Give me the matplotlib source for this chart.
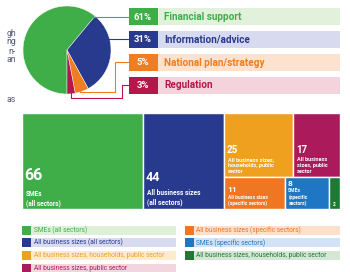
import matplotlib
matplotlib.use("Agg")
import matplotlib.pyplot as plt
from matplotlib.patches import Rectangle

plt.rcParams['font.family'] = ['Roboto', 'DejaVu Sans']

# ---------------- data ----------------
pie_labels = ["Financial support", "Information/advice", "National plan/strategy", "Regulation"]
pie_values = [61, 31, 5, 3]
pie_colors = ["#3fae49", "#283a8e", "#ef7d22", "#b5174b"]
pie_light = ["#e2f1dc", "#d8dbef", "#fde2cf", "#f4d3dc"]

tm_values = [66, 44, 25, 17, 11, 8, 2]
tm_labels = ["SMEs\n(all sectors)", "All business sizes\n(all sectors)",
             "All business sizes,\nhouseholds, public\nsector", "All business\nsizes, public\nsector",
             "All business sizes\n(specific sectors)", "SMEs\n(specific\nsectors)", ""]
tm_colors = ["#3fae49", "#283a8e", "#f0a01f", "#ab1a5a", "#ef7623", "#1f77c4", "#1d7a35"]

legend_labels = ["SMEs (all sectors)", "All business sizes (all sectors)",
                 "All business sizes, households, public sector", "All business sizes, public sector",
                 "All business sizes (specific sectors)", "SMEs (specific sectors)",
                 "All business sizes, households, public sector"]
legend_colors = ["#3fae49", "#283a8e", "#f0a01f", "#ab1a5a", "#ef7623", "#1f77c4", "#1d7a35"]
legend_light = ["#dff0d8", "#d9dcef", "#fdebd0", "#f3d5df", "#fde0cc", "#d3e3f5", "#d5e6d5"]

side_fragments = ["gh", "ng", "n-", "an", "as"]

# ---------------- figure ----------------
fig = plt.figure(figsize=(3.5, 2.72), dpi=100)
ax = fig.add_axes([0, 0, 1, 1])

# pie (y axis inverted later -> counterclock in data = clockwise visually)
pcx, pcy, pr = 67, 50, 44
ax.pie(pie_values, colors=pie_colors, startangle=90, counterclock=True,
       center=(pcx, pcy), radius=pr, wedgeprops=dict(edgecolor="white", linewidth=0.3))
ax.set_xlim(0, 350)
ax.set_ylim(272, 0)
ax.set_aspect('equal')
ax.axis('off')

# pie label rows
row_y = [16.5, 39, 62, 85]
row_h = 17
for i, (lab, v, c, lc) in enumerate(zip(pie_labels, pie_values, pie_colors, pie_light)):
    y = row_y[i]
    ax.add_patch(Rectangle((158, y - row_h / 2), 182, row_h, facecolor=lc, edgecolor="none"))
    ax.add_patch(Rectangle((128.5, y - row_h / 2), 29, row_h, facecolor=c, edgecolor="none"))
    ax.text(143, y + 0.5, f"{v}%", color="white", fontsize=6.8, fontweight="bold",
            ha="center", va="center")
    ax.text(164, y + 0.5, lab, color=c, fontsize=7.2, fontweight="bold", ha="left", va="center")

# connector lines
lw = 0.8
ax.plot([93, 128.5], [row_y[0], row_y[0]], color=pie_colors[0], lw=lw)
ax.plot([109, 128.5], [row_y[1], row_y[1]], color=pie_colors[1], lw=lw)
ax.plot([80, 80, 115, 115, 128.5], [90, 92, 92, row_y[2], row_y[2]], color=pie_colors[2], lw=lw)
ax.plot([71, 71, 122, 122, 128.5], [93, 97.5, 97.5, row_y[3], row_y[3]], color=pie_colors[3], lw=lw)

# treemap layout computed from data
X0, X1, Y0, Y1 = 22, 340, 113, 209
total = sum(tm_values)
W = X1 - X0
H = Y1 - Y0
rects = []
x = X0
for v in tm_values[:2]:
    w = v / total * W
    rects.append((x, Y0, w, H))
    x += w
rest_w = X1 - x
top = tm_values[2:4]
bot = tm_values[4:]
rest_total = sum(top) + sum(bot)
top_h = sum(top) / rest_total * H
xx = x
for v in top:
    w = v / sum(top) * rest_w
    rects.append((xx, Y0, w, top_h))
    xx += w
xx = x
for v in bot:
    w = v / sum(bot) * rest_w
    rects.append((xx, Y0 + top_h, w, H - top_h))
    xx += w

num_sizes = [11.5, 9, 7, 7, 6, 6, 3.5]
lab_sizes = [4.7, 4.8, 4.0, 4.0, 3.6, 3.6, 3]
bottom_pad = [2, 2.5, 3, 3, 2.5, 2.5, 2]
num_gap = [5, 3.5, 1.5, 1.5, 1.2, 1.2, 1]
for (rx, ry, rw, rh), v, lab, c, ns, ls, bp, ng in zip(rects, tm_values, tm_labels, tm_colors,
                                                       num_sizes, lab_sizes, bottom_pad, num_gap):
    ax.add_patch(Rectangle((rx, ry), rw, rh, facecolor=c, edgecolor="white", linewidth=1.0))
    if lab:
        t = ax.text(rx + 3.5, ry + rh - bp, lab, color="white", fontsize=ls, fontweight="bold",
                    ha="left", va="bottom", linespacing=1.2)
        ax.annotate(str(v), xy=(0, 1), xycoords=t, xytext=(-0.6, ng), textcoords="offset points",
                    color="white", fontsize=ns, fontweight="bold", ha="left", va="bottom")
    else:
        ax.text(rx + rw / 2, ry + rh - 2.5, str(v), color="white", fontsize=ns, fontweight="bold",
                ha="center", va="bottom")

# legend
leg_rows = [230, 242.5, 255.5, 268]
for i, (lab, c, lc) in enumerate(zip(legend_labels, legend_colors, legend_light)):
    col = 0 if i < 4 else 1
    r = i if i < 4 else i - 4
    y = leg_rows[r]
    sx = 22 if col == 0 else 184.5
    bend = 176 if col == 0 else 340
    ax.add_patch(Rectangle((sx + 9, y - 4.5), bend - sx - 9, 9, facecolor=lc, edgecolor="none"))
    ax.add_patch(Rectangle((sx, y - 4.5), 9, 9, facecolor=c, edgecolor="none"))
    ax.text(sx + 12, y + 0.3, lab, color=c, fontsize=4.8, ha="left", va="center")

# cropped side text
frag_y = [33, 42, 51, 60, 100]
for t, y in zip(side_fragments, frag_y):
    ax.text(16, y, t, color="#55597a", fontsize=6.3, ha="right", va="center")

fig.savefig("out.png", dpi=100)
